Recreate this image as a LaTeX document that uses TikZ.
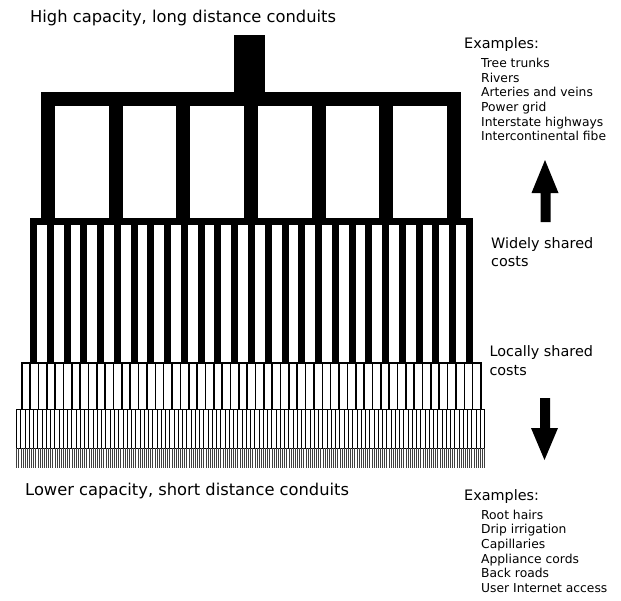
\documentclass[tikz,border=0pt]{standalone}
\usepackage{fontspec}
\setmainfont{DejaVu Sans}
\usetikzlibrary{positioning}

\begin{document}
\begin{tikzpicture}[x=1pt,y=-1pt,
    heading/.style={anchor=base west, inner sep=0pt, font=\fontsize{16.3}{18}\selectfont},
    sidelabel/.style={anchor=base west, inner sep=0pt, font=\fontsize{14.4}{16}\selectfont},
    item/.style={anchor=base west, inner sep=0pt, font=\fontsize{12.3}{14}\selectfont}]
  \useasboundingbox (0,0) rectangle (621,600);

  % trunk on top
  \fill (234,35) rectangle (265,92);

  % level 1: few thick conduits
  \draw[line width=14pt] (48,218) -- (48,99) -- (454,99) -- (454,218);
  \foreach \i in {1,...,5}
    \draw[line width=14pt] (48+67.67*\i,99) -- (48+67.67*\i,218);

  % level 2
  \draw[line width=7pt] (33.5,362) -- (33.5,221.7) -- (469.5,221.7) -- (469.5,362);
  \foreach \i in {1,...,25}
    \draw[line width=7pt] (33.5+16.77*\i,221.7) -- (33.5+16.77*\i,362);

  % level 3
  \draw[line width=2pt] (21.7,409) -- (21.7,362.5) -- (481,362.5) -- (481,409);
  \foreach \i in {1,...,54}
    \draw[line width=1.6pt] (21.7+8.351*\i,362.5) -- (21.7+8.351*\i,409);

  % level 4
  \draw[line width=1.6pt] (16.5,448) -- (16.5,409.5) -- (484.5,409.5) -- (484.5,448);
  \foreach \i in {1,...,109}
    \draw[line width=0.7pt] (16.5+4.2545*\i,409.5) -- (16.5+4.2545*\i,448);

  % level 5: finest conduits
  \draw[line width=0.9pt] (16.5,448.3) -- (484.5,448.3);
  \foreach \i in {0,...,220}
    \draw[line width=0.5pt, black!75] (16.5+2.1273*\i,448.3) -- (16.5+2.1273*\i,468);

  % arrows
  \fill (545,160) -- (558.5,193) -- (550.5,193) -- (550.5,222) -- (540.5,222)
    -- (540.5,193) -- (531.5,193) -- cycle;
  \fill (544.5,460) -- (558,428) -- (550,428) -- (550,398) -- (540,398)
    -- (540,428) -- (531,428) -- cycle;

  % labels
  \node[heading] (hightitle) at (30,22.3) {High capacity, long distance conduits};
  \node[heading] (lowtitle) at (25,495.7) {Lower capacity, short distance conduits};

  \node[sidelabel] (highex) at (464,48.5) {Examples:};
  \foreach \t [count=\i] in {Tree trunks, Rivers, Arteries and veins, Power grid,
      Interstate highways, Intercontinental fibe}
    \node[item] (high\i) at (481,52.7+14.67*\i) {\t};

  \node[sidelabel] (wide) at (491,248.3) {Widely shared};
  \node[sidelabel] (widecost) at (491,266.7) {costs};
  \node[sidelabel] (local) at (489.3,356.7) {Locally shared};
  \node[sidelabel] (localcost) at (489.3,375.7) {costs};

  \node[sidelabel] (lowex) at (464,500.7) {Examples:};
  \foreach \t [count=\i] in {Root hairs, Drip irrigation, Capillaries, Appliance cords,
      Back roads, User Internet access}
    \node[item] (low\i) at (481,504.7+14.6*\i) {\t};
\end{tikzpicture}
\end{document}
